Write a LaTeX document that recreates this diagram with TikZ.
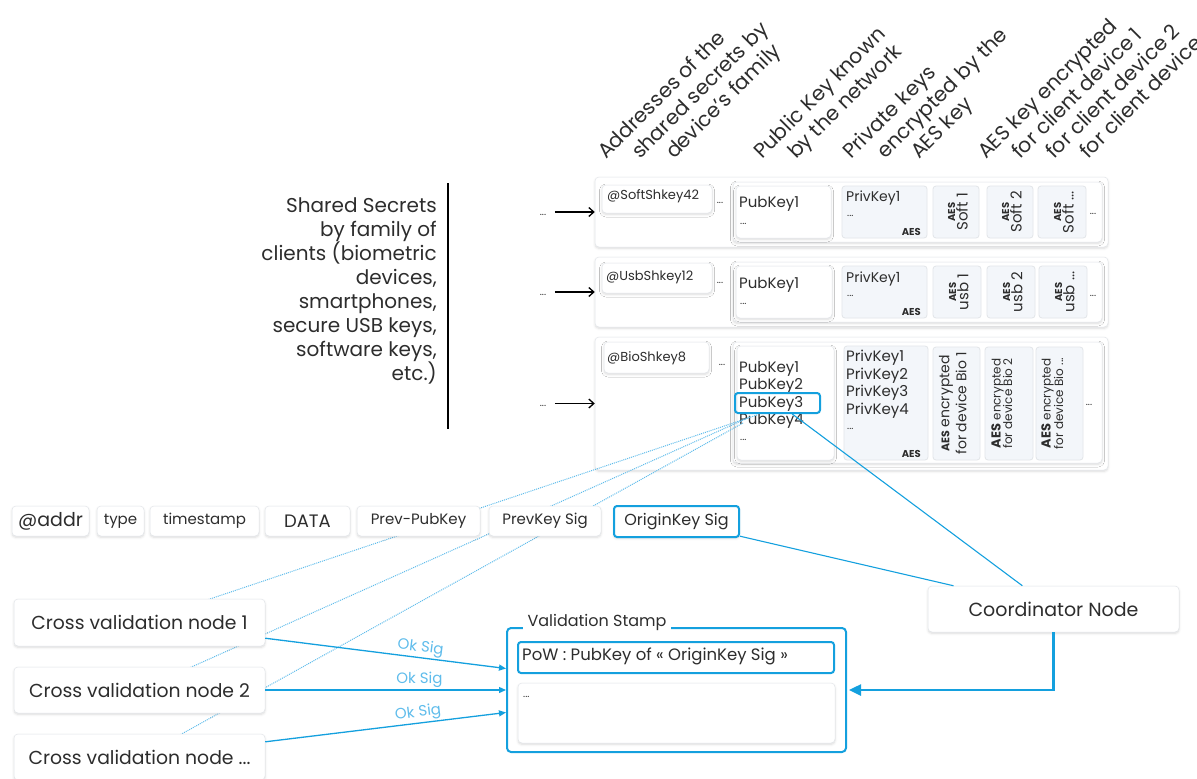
\documentclass[tikz,border=0pt]{standalone}
\usepackage{fontspec}
\setmainfont{Poppins}
\usetikzlibrary{shadows.blur,arrows.meta,calc,fit}
\definecolor{cy}{RGB}{20,160,222}
\definecolor{cyl}{RGB}{95,188,235}
\definecolor{tx}{RGB}{45,45,45}
\definecolor{panel}{RGB}{243,246,250}
\definecolor{edge}{RGB}{226,229,233}
\newcommand\fsz[2]{\fontsize{#1}{#2}\selectfont}
\newcommand\aesbox[2]{%
  \node[vt, font=\fsz{10}{10}\bfseries] at ($(#1)+(-4.5,0)$) {AES};
  \node[vt, font=\fsz{15}{15}] at ($(#1)+(6,0)$) {#2};}
\tikzset{
  card/.style={draw=edge, line width=0.5pt, fill=white, rounded corners=4pt, inner sep=0pt,
    blur shadow={shadow xshift=0pt, shadow yshift=-1.5pt, shadow blur radius=2.5pt, shadow opacity=14, shadow blur steps=6}},
  pane/.style={draw=edge, line width=0.8pt, fill=panel, rounded corners=3pt, inner sep=0pt},
  txt/.style={text=tx, inner sep=0pt},
  hdr/.style={txt, rotate=45, anchor=base west, font=\fsz{20.5}{22}},
  vt/.style={txt, rotate=90},
  ok/.style={cy, line width=1.3pt, -{Triangle[length=7pt,width=6pt]}},
  oklbl/.style={text=cyl, font=\fsz{15}{15}, anchor=south, inner sep=1.5pt},
  link/.style={cy, line width=1.1pt},
  dots/.style={cyl, line width=1pt, densely dotted},
  blk/.style={black, line width=1.3pt, -{Straight Barb[length=5pt,width=9pt]}},
  hl/.style={draw=cy, line width=2pt, rounded corners=3pt, inner sep=0pt},
}
\begin{document}
\begin{tikzpicture}[x=1pt,y=-1pt]
\useasboundingbox (0,0) rectangle (1197,779);
\clip (0,0) rectangle (1197,779);

% headers
\node[hdr] (h1a) at (606,160) {Addresses of the};
\node[hdr] (h1b) at (640,160) {shared secrets by};
\node[hdr] (h1c) at (674,160) {device's family};
\node[hdr] (h2a) at (762,160) {Public Key known};
\node[hdr] (h2b) at (796,160) {by the network};
\node[hdr] (h3a) at (851,160) {Private keys};
\node[hdr] (h3b) at (885,160) {encrypted by the};
\node[hdr] (h3c) at (919,160) {AES key};
\node[hdr] (h4a) at (986,160) {AES key encrypted};
\node[hdr] (h4b) at (1020,160) {for client device 1};
\node[hdr] (h4c) at (1054,160) {for client device 2};
\node[hdr] (h4d) at (1088,160) {for client device ...};

% left text
\node[txt, align=right, anchor=north east, font=\fsz{20}{24}] (ss) at (437,197)
  {Shared Secrets\\by family of\\clients (biometric\\devices,\\smartphones,\\secure USB keys,\\software keys,\\etc.)};
\coordinate (vt1) at (448,183);
\coordinate (vt2) at (448,429);
\draw[black, line width=1.4pt] (vt1) -- (vt2);

% ---- row 1
\node[card, fit={(595,177)(1108,247)}] (r1) {};
\node[card, fit={(602,185)(712,213)}] (a1) {};
\node[txt, anchor=west, font=\fsz{13}{13}] (a1t) at (607,196) {@SoftShkey42};
\node[txt, font=\fsz{10}{10}] (a1d) at (720,203) {...};
\node[card, fit={(733,182)(1102,242)}] (g1) {};
\node[card, fit={(736,186)(831,238)}] (p1) {};
\node[txt, anchor=west, font=\fsz{15}{15}] (p1t) at (739,204) {PubKey1};
\node[txt, anchor=west, font=\fsz{10}{10}] (p1d) at (740,224) {...};
\node[pane, fit={(842,186)(927,238)}] (q1) {};
\node[txt, anchor=west, font=\fsz{14}{14}] (q1t) at (846,198) {PrivKey1};
\node[txt, anchor=west, font=\fsz{10}{10}] (q1d) at (847,216) {...};
\node[txt, anchor=south east, font=\fsz{10}{10}\bfseries] (q1a) at (921,236) {AES};
\node[pane, fit={(933,186)(979,238)}] (s11) {};
\node[pane, fit={(987,186)(1033,238)}] (s12) {};
\node[pane, fit={(1038,186)(1086,238)}] (s13) {};
\aesbox{s11}{Soft 1}
\aesbox{s12}{Soft 2}
\aesbox{s13}{Soft ...}
\node[txt, font=\fsz{10}{10}] (g1d) at (1093,214) {...};

% ---- row 2
\node[card, fit={(595,257)(1108,327)}] (r2) {};
\node[card, fit={(602,263)(712,293)}] (a2) {};
\node[txt, anchor=west, font=\fsz{13}{13}] (a2t) at (606,277) {@UsbShkey12};
\node[txt, font=\fsz{10}{10}] (a2d) at (720,283) {...};
\node[card, fit={(733,262)(1102,322)}] (g2) {};
\node[card, fit={(736,266)(832,318)}] (p2) {};
\node[txt, anchor=west, font=\fsz{15}{15}] (p2t) at (739,285) {PubKey1};
\node[txt, anchor=west, font=\fsz{10}{10}] (p2d) at (740,304) {...};
\node[pane, fit={(842,266)(927,318)}] (q2) {};
\node[txt, anchor=west, font=\fsz{14}{14}] (q2t) at (846,279) {PrivKey1};
\node[txt, anchor=west, font=\fsz{10}{10}] (q2d) at (847,296) {...};
\node[txt, anchor=south east, font=\fsz{10}{10}\bfseries] (q2a) at (921,316) {AES};
\node[pane, fit={(933,266)(981,318)}] (s21) {};
\node[pane, fit={(987,266)(1035,318)}] (s22) {};
\node[pane, fit={(1039,266)(1087,318)}] (s23) {};
\aesbox{s21}{usb 1}
\aesbox{s22}{usb 2}
\aesbox{s23}{usb ...}
\node[txt, font=\fsz{10}{10}] (g2d) at (1093,296) {...};

% ---- row 3
\node[card, fit={(595,337)(1108,470)}] (r3) {};
\node[card, fit={(604,342)(709,373)}] (a3) {};
\node[txt, anchor=west, font=\fsz{13}{13}] (a3t) at (607,358) {@BioShkey8};
\node[txt, font=\fsz{10}{10}] (a3d) at (722,365) {...};
\node[card, fit={(733,342)(1102,463)}] (g3) {};
\node[card, fit={(737,346)(834,460)}] (p3) {};
\node[txt, anchor=north west, align=left, font=\fsz{15}{17.5}] (p3t) at (739,361)
  {PubKey1\\PubKey2\\PubKey3\\PubKey4};
\node[txt, anchor=west, font=\fsz{10}{10}] (p3d) at (740,440) {...};
\node[pane, fit={(844,346)(928,460)}] (q3) {};
\node[txt, anchor=north west, align=left, font=\fsz{15}{17.5}] (q3t) at (846,350)
  {PrivKey1\\PrivKey2\\PrivKey3\\PrivKey4};
\node[txt, anchor=west, font=\fsz{10}{10}] (q3d) at (847,429) {...};
\node[txt, anchor=south east, font=\fsz{10}{10}\bfseries] (q3a) at (921,458) {AES};
\node[pane, fit={(933,347)(980,460)}] (b1) {};
\node[pane, fit={(985,347)(1033,460)}] (b2) {};
\node[pane, fit={(1036,347)(1083,460)}] (b3) {};
\node[vt, font=\fsz{14}{14}] at ($(b1)+(-10.5,0)$) {{\fsz{11}{11}\bfseries AES} encrypted};
\node[vt, font=\fsz{14}{14}] at ($(b1)+(4.5,0)$) {for device Bio 1};
\node[vt, font=\fsz{12}{12}] at ($(b2)+(-11.5,0)$) {{\fsz{13}{13}\bfseries AES} encrypted};
\node[vt, font=\fsz{12}{12}] at ($(b2)+(-1.5,0)$) {for device Bio 2};
\node[vt, font=\fsz{12}{12}] at ($(b3)+(-12,0)$) {{\fsz{13}{13}\bfseries AES} encrypted};
\node[vt, font=\fsz{12}{12}] at ($(b3)+(-1,0)$) {for device Bio ...};
\node[txt, font=\fsz{10}{10}] (g3d) at (1089,405) {...};
\node[hl, fit={(735,393)(820,413)}] (pk3) {};

% arrows into rows
\node[txt, font=\fsz{10}{10}] (d1) at (543,215) {...};
\node[txt, font=\fsz{10}{10}] (d2) at (543,295) {...};
\node[txt, font=\fsz{10}{10}] (d3) at (543,406) {...};
\draw[blk] ($(r1.west)+(-40,0)$) -- (r1.west);
\draw[blk] ($(r2.west)+(-40,0)$) -- (r2.west);
\draw[blk] ($(r3.west)+(-40,0)$) -- (r3.west);

% dotted lines (behind lower boxes)
\coordinate (c1) at (140,622.5);
\coordinate (c2) at (140,690);
\coordinate (c3) at (140,757);
\coordinate (sa) at (757,415);
\coordinate (sb) at (750,417);
\coordinate (sc) at (743,423);
\draw[dots] (sa) -- (c1);
\draw[dots] (sb) -- (c2);
\draw[dots] (sc) -- (c3);

% transaction row
\node[card, fit={(12,506)(89,536)}] (t1) {};
\node[txt, font=\fsz{19}{19}] at (t1) {@addr};
\node[card, fit={(97,506)(144,536)}] (t2) {};
\node[txt, font=\fsz{15}{15}] at (t2) {type};
\node[card, fit={(150,506)(259,536)}] (t3) {};
\node[txt, font=\fsz{15}{15}] at (t3) {timestamp};
\node[card, fit={(265,506)(350,536)}] (t4) {};
\node[txt, font=\fsz{18}{18}] at (t4) {DATA};
\node[card, fit={(357,506)(480,536)}] (t5) {};
\node[txt, font=\fsz{15}{15}] at (t5) {Prev-PubKey};
\node[card, fit={(489,506)(601,536)}] (t6) {};
\node[txt, font=\fsz{15}{15}] at (t6) {PrevKey Sig};
\node[card, hl, fit={(614,506)(739,537)}] (orig) {};
\node[txt, font=\fsz{16}{16}] at (orig) {OriginKey Sig};

% cross validation nodes
\node[card, fit={(14,599)(265,646)}] (cv1) {};
\node[txt, font=\fsz{18.8}{18.8}] at (cv1) {Cross validation node 1};
\node[card, fit={(14,667)(265,713)}] (cv2) {};
\node[txt, font=\fsz{18.8}{18.8}] at (cv2) {Cross validation node 2};
\node[card, fit={(14,734)(265,780)}] (cv3) {};
\node[txt, font=\fsz{18.8}{18.8}] at (cv3) {Cross validation node ...};

% coordinator
\node[card, fit={(928,586)(1179,632)}] (coord) {};
\node[txt, font=\fsz{19}{19}] at (coord) {Coordinator Node};

% validation stamp
\node[draw=cy, line width=2pt, rounded corners=4pt, inner sep=0pt, fit={(507,628)(846,752)}] (stamp) {};
\node[txt, fill=white, inner xsep=5pt, inner ysep=2pt, font=\fsz{16}{16}] (stl) at (597,622) {Validation Stamp};
\node[hl, fill=white, fit={(518,642)(834,673)}] (pow) {};
\node[txt, anchor=west, font=\fsz{16.5}{16.5}] at (522,656) {PoW : PubKey of « OriginKey Sig »};
\node[card, fit={(518,683)(835,743)}] (res) {};
\node[txt, anchor=west, font=\fsz{10}{10}] at (523,697) {...};

% links
\draw[link] (pk3) -- (coord);
\draw[link] (orig) -- (coord);
\draw[ok] (cv1) -- ($(stamp.west)+(0,-21.5)$) node[oklbl, pos=0.64, rotate=-7] {Ok Sig};
\draw[ok] (cv2) -- (stamp.west) node[oklbl, pos=0.64] {Ok Sig};
\draw[ok] (cv3) -- ($(stamp.west)+(0,22.5)$) node[oklbl, pos=0.64, rotate=7] {Ok Sig};
\draw[cy, line width=2.5pt, -{Triangle[length=12pt,width=11pt]}, shorten >=2pt] (coord.south) |- (stamp.east);
\end{tikzpicture}
\end{document}
